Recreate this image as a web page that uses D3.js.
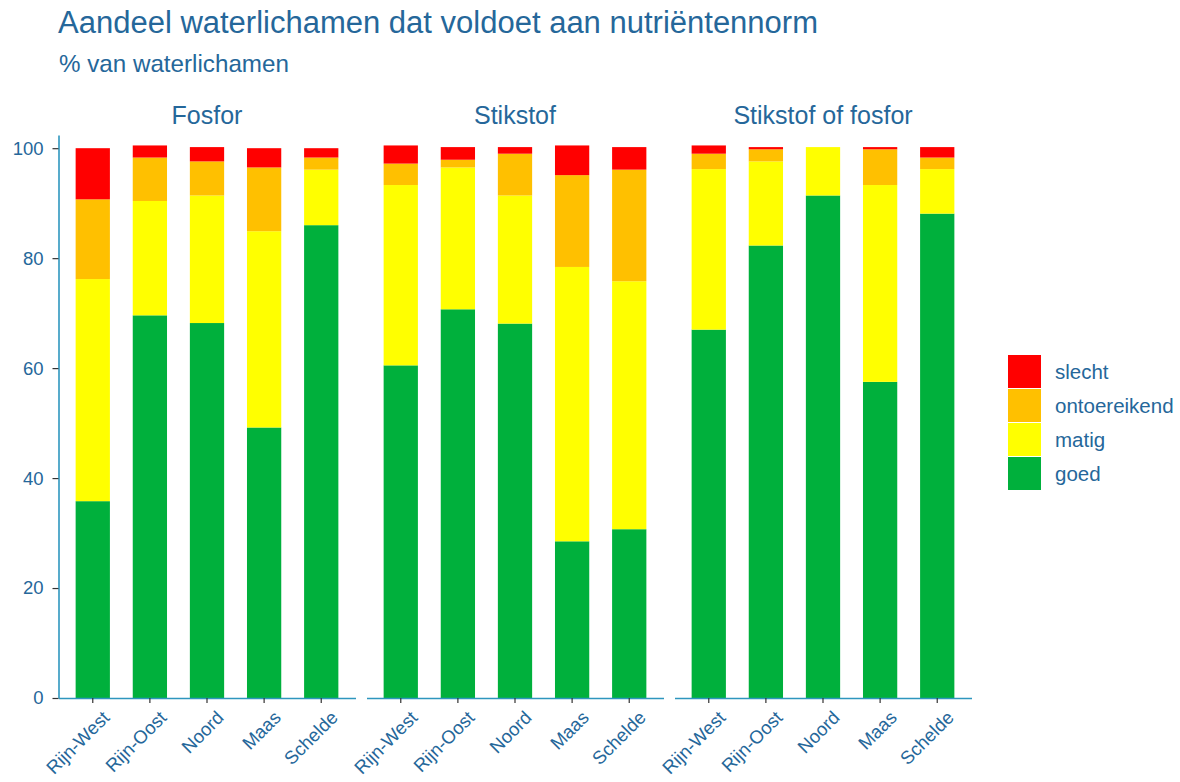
<!DOCTYPE html>
<html>
<head>
<meta charset="utf-8">
<script src="https://cdn.jsdelivr.net/npm/d3@7"></script>
<style>
  body { margin: 0; background: #fff; }
  svg { font-family: "Liberation Sans", Arial, sans-serif; }
</style>
</head>
<body>
<script>
// chart values (percent of water bodies)
const regions = ["Rijn-West", "Rijn-Oost", "Noord", "Maas", "Schelde"];
const panels = ["Fosfor", "Stikstof", "Stikstof of fosfor"];
const classes = ["goed", "matig", "ontoereikend", "slecht"];
const classColors = ["#00B03C", "#FFFF00", "#FFC000", "#FF0000"];
const yTicks = [0, 20, 40, 60, 80, 100];

// one row per panel, one value per region
const goed = [
  [35.8, 69.6, 68.2, 49.2, 86.0],
  [60.5, 70.7, 68.1, 28.5, 30.7],
  [67.0, 82.3, 91.4, 57.5, 88.1]
];
const matig = [
  [40.4, 20.8, 23.2, 35.7, 10.1],
  [32.8, 25.8, 23.3, 49.9, 45.1],
  [29.2, 15.3, 8.8, 35.8, 8.1]
];
const ontoereikend = [
  [14.5, 7.9, 6.2, 11.6, 2.2],
  [3.9, 1.4, 7.6, 16.7, 20.3],
  [2.8, 2.2, 0, 6.5, 2.1]
];
const slecht = [
  [9.3, 2.2, 2.6, 3.5, 1.7],
  [3.3, 2.3, 1.2, 5.4, 4.1],
  [1.5, 0.4, 0, 0.4, 1.9]
];

const W = 1180, H = 782;
const textCol = "#25679A", axisCol = "#2E96BE", tickCol = "#333";
const marginLeft = 58.5, plotTop = 135, plotBottom = 698;
const pw = 297, gap = 11;

const svg = d3.select("body").append("svg")
  .attr("width", W).attr("height", H);

// titles
svg.append("text").attr("x", 58).attr("y", 33)
  .attr("font-size", 31).attr("fill", textCol)
  .text("Aandeel waterlichamen dat voldoet aan nutriëntennorm");
svg.append("text").attr("x", 59).attr("y", 72)
  .attr("font-size", 24.2).attr("fill", textCol)
  .text("% van waterlichamen");

const y = d3.scaleLinear().domain([0, 102.4]).range([plotBottom, plotTop]);

const x = d3.scaleBand().domain(regions).range([0, pw])
  .paddingInner(0.4).paddingOuter(0.3);

const stack = d3.stack().keys(classes);

panels.forEach((p, pi) => {
  const g = svg.append("g")
    .attr("transform", "translate(" + (marginLeft + pi * (pw + gap)) + ",0)");

  const rows = regions.map((r, i) => ({
    region: r,
    goed: goed[pi][i],
    matig: matig[pi][i],
    ontoereikend: ontoereikend[pi][i],
    slecht: slecht[pi][i]
  }));
  const series = stack(rows);

  g.selectAll("g.layer")
    .data(series)
    .enter().append("g")
      .attr("class", "layer")
      .attr("fill", (d, i) => classColors[i])
    .selectAll("rect")
    .data(d => d)
    .enter().append("rect")
      .attr("x", d => x(d.data.region))
      .attr("width", x.bandwidth())
      .attr("y", d => y(d[1]))
      .attr("height", d => y(d[0]) - y(d[1]));

  // strip title
  g.append("text")
    .attr("x", pw / 2).attr("y", 124)
    .attr("text-anchor", "middle")
    .attr("font-size", 25).attr("fill", textCol)
    .text(p);

  // x axis
  const xa = g.append("g")
    .attr("transform", "translate(0," + plotBottom + ")")
    .call(d3.axisBottom(x).tickSize(5).tickSizeOuter(0));
  xa.select(".domain").attr("stroke", axisCol).attr("stroke-width", 1.6);
  xa.selectAll(".tick line").attr("stroke", tickCol).attr("stroke-width", 1.2);
  xa.selectAll(".tick text")
    .attr("font-size", 18.5).attr("fill", textCol)
    .attr("font-family", "Liberation Sans, Arial, sans-serif")
    .attr("text-anchor", "end")
    .attr("transform", "translate(8,11) rotate(-45)")
    .attr("dy", "0.75em").attr("y", 0);

  if (pi === 0) {
    const ya = g.append("g")
      .call(d3.axisLeft(y).tickValues(yTicks).tickSize(6).tickSizeOuter(0));
    ya.select(".domain").attr("stroke", axisCol).attr("stroke-width", 1.6);
    ya.selectAll(".tick line").attr("stroke", tickCol).attr("stroke-width", 1.2);
    ya.selectAll(".tick text")
      .attr("font-size", 18.5).attr("fill", textCol)
      .attr("font-family", "Liberation Sans, Arial, sans-serif")
      .attr("x", -15);
  }
});

// legend (top to bottom: slecht .. goed)
const legend = svg.append("g").attr("transform", "translate(1008,355)");
const order = classes.slice().reverse();
order.forEach((c, i) => {
  legend.append("rect")
    .attr("x", 0).attr("y", i * 34)
    .attr("width", 33).attr("height", 33)
    .attr("fill", classColors[classes.indexOf(c)]);
  legend.append("text")
    .attr("x", 47).attr("y", i * 34 + 17)
    .attr("dy", "0.35em")
    .attr("font-size", 20.5).attr("fill", textCol)
    .text(c);
});
</script>
</body>
</html>
